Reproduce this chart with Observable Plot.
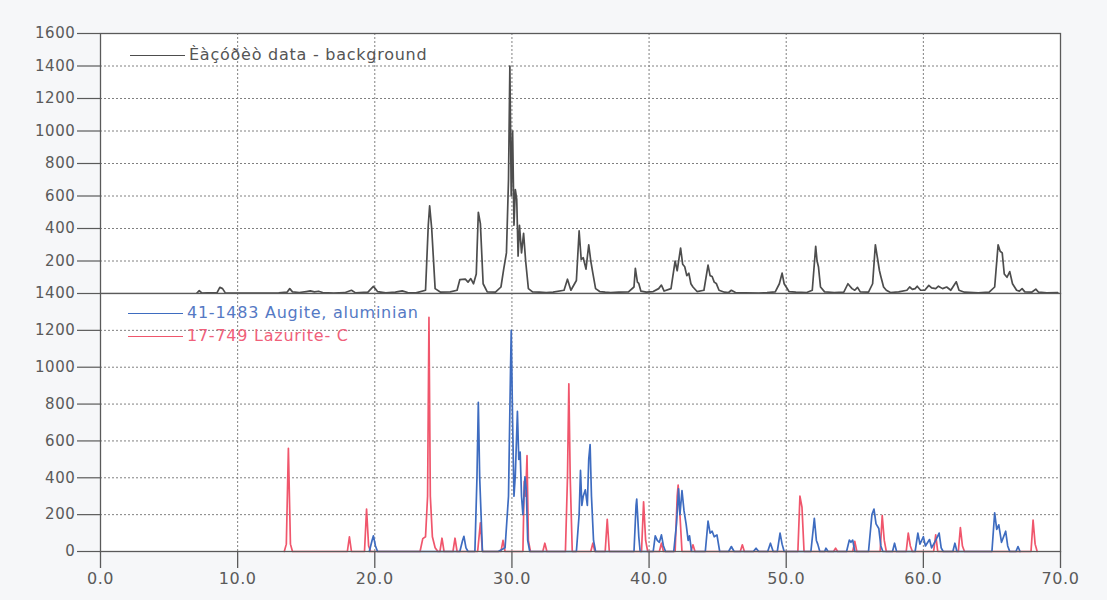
<!DOCTYPE html>
<html>
<head>
<meta charset="utf-8">
<script src="https://cdn.jsdelivr.net/npm/d3@7"></script>
<script src="https://cdn.jsdelivr.net/npm/@observablehq/plot@0.6"></script>
<style>
  body { margin: 0; background: #f6f7f9; font-family: "DejaVu Sans", Verdana, sans-serif; }
  #wrap { position: relative; width: 1107px; height: 600px; }
  #wrap svg { display: block; }
  .leg { position: absolute; font-size: 16px; line-height: 18px; letter-spacing: 0.75px; white-space: nowrap; }
  .leg span.ln { display: inline-block; width: 55px; height: 0; border-top: 1.3px solid; vertical-align: middle; margin-right: 4px; }
</style>
</head>
<body>
<div id="wrap"></div>
<script>
// ---- Data (2-theta in degrees, intensity) ----
const sampleTheta = [7.0,7.2,7.4,7.8,8.5,8.7,8.9,9.1,10.0,11.0,12.0,13.0,13.6,13.8,14.0,14.5,15.0,15.3,15.6,15.9,16.2,17.0,17.8,18.3,18.6,19.5,19.9,20.2,20.8,21.5,22.0,22.4,23.0,23.7,23.9,24.0,24.15,24.4,24.8,25.5,26.0,26.2,26.6,26.8,27.0,27.2,27.4,27.55,27.7,27.9,28.2,28.8,29.2,29.4,29.6,29.75,29.85,29.95,30.05,30.15,30.25,30.35,30.45,30.55,30.7,30.85,31.0,31.2,31.5,32.0,32.5,33.0,33.8,34.05,34.3,34.7,34.9,35.05,35.2,35.4,35.6,35.75,35.9,36.1,36.4,36.8,37.2,37.8,38.5,38.9,39.0,39.15,39.25,39.4,39.8,40.3,40.7,40.9,41.1,41.6,41.9,42.05,42.3,42.45,42.6,42.75,42.9,43.05,43.2,43.5,44.0,44.3,44.45,44.6,44.75,44.9,45.1,45.5,45.8,46.0,46.3,47.0,48.0,48.6,49.2,49.5,49.7,49.85,50.0,50.2,50.7,51.5,51.9,52.15,52.25,52.35,52.5,52.8,53.5,54.2,54.5,54.65,54.8,55.0,55.2,55.4,56.0,56.3,56.5,56.65,56.8,56.9,57.1,57.3,57.6,58.2,58.8,59.0,59.2,59.4,59.55,59.8,60.1,60.4,60.6,60.9,61.1,61.4,61.7,62.0,62.4,62.6,63.0,64.0,64.8,65.2,65.45,65.6,65.75,65.9,66.1,66.3,66.5,66.8,67.0,67.2,67.4,67.9,68.2,68.4,69.0,69.8];
const sampleCounts = [0,18,2,4,6,38,30,4,2,3,2,4,8,30,10,6,12,16,10,14,6,3,5,20,4,8,44,12,4,8,16,6,4,20,420,540,400,30,8,10,20,85,88,70,92,60,120,500,430,60,10,8,40,150,250,700,1400,600,1000,420,640,580,230,420,250,370,200,30,10,8,6,8,20,88,20,80,385,210,220,150,300,200,125,30,12,8,6,8,10,40,155,70,62,15,8,12,30,52,15,30,200,140,280,180,165,110,125,60,40,12,20,175,110,105,70,62,20,8,6,20,6,4,3,5,10,60,125,60,40,12,8,6,20,290,200,165,40,10,6,8,60,45,30,20,38,10,8,60,300,220,140,105,40,20,6,10,20,40,25,30,45,20,20,50,35,30,45,30,40,20,72,20,8,4,8,40,300,260,250,120,100,135,60,20,15,30,10,8,27,8,4,6];

const augiteTheta = [19.6,19.8,19.9,20.05,20.2,26.2,26.4,26.5,26.65,26.8,27.3,27.45,27.55,27.65,27.85,29.0,29.5,29.75,29.9,29.95,30.05,30.15,30.25,30.4,30.5,30.6,30.7,30.8,30.95,31.05,31.15,31.3,34.7,34.9,35.0,35.1,35.2,35.35,35.5,35.6,35.7,35.8,35.95,36.1,38.9,39.05,39.1,39.25,39.35,40.3,40.45,40.6,40.75,40.9,41.05,41.2,41.8,42.0,42.15,42.25,42.4,42.55,42.7,42.85,42.95,43.1,44.1,44.3,44.45,44.6,44.75,44.95,45.15,45.8,46.0,46.2,47.6,47.8,48.0,48.65,48.85,49.05,49.35,49.55,49.7,49.85,51.8,52.05,52.2,52.3,52.45,52.8,52.9,53.05,54.4,54.6,54.72,54.85,55.0,56.0,56.25,56.4,56.55,56.75,56.9,57.05,57.75,57.9,58.05,59.4,59.6,59.75,60.0,60.15,60.45,60.6,60.9,61.15,61.3,61.45,62.15,62.3,62.45,65.0,65.2,65.35,65.5,65.7,66.0,66.15,66.3,66.75,66.9,67.05];
const augiteCounts = [0,60,85,30,0,0,60,82,20,0,0,400,810,400,0,0,20,300,1000,1200,700,300,420,760,500,540,300,200,405,330,60,0,0,200,440,250,300,335,250,500,580,300,60,0,0,250,285,80,0,0,85,60,50,90,30,0,0,150,340,200,330,220,150,60,85,0,0,165,100,110,80,90,0,0,27,0,0,18,0,0,45,0,0,100,40,0,0,180,60,40,0,0,18,0,0,62,50,62,0,0,200,230,150,125,30,0,0,45,0,0,100,40,80,30,65,20,60,100,20,0,0,45,0,0,210,120,145,50,110,30,0,0,27,0];

const lazuriteTheta = [13.4,13.55,13.7,13.85,14.0,18.0,18.15,18.3,19.25,19.4,19.55,19.7,23.3,23.5,23.7,23.85,23.95,24.05,24.2,24.4,24.6,24.75,24.9,25.05,25.7,25.85,26.0,27.5,27.7,27.85,29.2,29.35,29.5,30.8,30.9,31.0,31.1,31.2,31.35,32.25,32.4,32.55,33.9,34.05,34.15,34.25,34.4,35.75,35.9,36.05,36.8,36.95,37.1,39.45,39.6,39.75,39.9,40.75,40.9,41.05,41.9,42.05,42.12,42.25,42.4,43.05,43.2,43.35,46.65,46.8,46.95,50.85,51.0,51.15,51.3,53.45,53.6,53.75,54.85,55.0,55.15,56.85,57.0,57.15,57.3,58.75,58.9,59.05,59.2,60.75,60.9,61.05,62.55,62.7,62.85,63.0,67.85,68.0,68.15,68.3];
const lazuriteCounts = [0,40,560,40,0,0,80,0,0,230,30,0,0,70,80,300,1270,300,80,20,0,0,72,0,0,72,0,0,155,0,0,60,0,0,380,300,520,60,0,0,45,0,0,400,910,400,0,0,45,0,0,175,0,0,270,60,0,0,45,0,0,300,360,200,0,0,36,0,0,36,0,0,300,240,0,0,18,0,0,55,0,0,195,60,0,0,100,30,0,0,90,0,0,130,30,0,0,170,40,0];

const xTicks = [0, 10, 20, 30, 40, 50, 60, 70];
const xGrid = [10, 20, 30, 40, 50, 60];
const topYTicks = [200, 400, 600, 800, 1000, 1200, 1400, 1600];
const topYGrid = [200, 400, 600, 800, 1000, 1200, 1400];
const botYTicks = [0, 200, 400, 600, 800, 1000, 1200, 1400];
const botYGrid = [200, 400, 600, 800, 1000, 1200];

const legendTop = "Èàçóðèò data - background";
const legendBlue = "41-1483 Augite, aluminian";
const legendRed = "17-749 Lazurite- C";

// ---- Build tables ----
const toRows = (xs, ys) => xs.map((t, i) => ({t, c: ys[i]}));
const sample = toRows(sampleTheta, sampleCounts);
const augite = toRows(augiteTheta, augiteCounts);
const lazurite = toRows(lazuriteTheta, lazuriteCounts);

const C_AXIS = "#5a5a5a";
const C_GRID = "#808080";
const C_SAMPLE = "#4d4d4d";
const C_BLUE = "#3e6cc0";
const C_RED = "#f0566c";

const style = {background: "transparent", color: C_AXIS, fontFamily: "'DejaVu Sans', Verdana, sans-serif", letterSpacing: "0.6px", overflow: "visible"};
const gridOpts = {stroke: C_GRID, strokeOpacity: 1, strokeWidth: 1, strokeDasharray: "2,2"};
const numFmt = d => String(d);

const topPlot = Plot.plot({
  width: 1107, height: 293,
  marginLeft: 100, marginRight: 47, marginTop: 33, marginBottom: 0,
  x: {domain: [0, 70], axis: null},
  y: {domain: [0, 1600], axis: null},
  style,
  marks: [
    Plot.frame({fill: "white", stroke: null}),
    Plot.gridX(xGrid, gridOpts),
    Plot.gridY(topYGrid, gridOpts),
    Plot.line(sample, {x: "t", y: "c", stroke: C_SAMPLE, strokeWidth: 1.7}),
    Plot.axisY(topYTicks, {label: null, tickFormat: numFmt, tickSize: 23, tickPadding: 2, fontSize: 15, color: C_AXIS, strokeWidth: 1.2}),
    Plot.frame({stroke: C_AXIS, strokeWidth: 1.3})
  ]
});

const botPlot = Plot.plot({
  width: 1107, height: 307,
  marginLeft: 100, marginRight: 47, marginTop: 0, marginBottom: 49,
  x: {domain: [0, 70], axis: null},
  y: {domain: [0, 1400], axis: null},
  style,
  marks: [
    Plot.frame({fill: "white", stroke: null}),
    Plot.gridX(xGrid, gridOpts),
    Plot.gridY(botYGrid, gridOpts),
    Plot.line(lazurite, {x: "t", y: "c", stroke: C_RED, strokeWidth: 1.7}),
    Plot.line(augite, {x: "t", y: "c", stroke: C_BLUE, strokeWidth: 1.7}),
    Plot.axisY(botYTicks, {label: null, tickFormat: numFmt, tickSize: 23, tickPadding: 2, fontSize: 15, color: C_AXIS, strokeWidth: 1.2}),
    Plot.axisX(xTicks, {label: null, tickSize: 17, tickPadding: 4, fontSize: 16, color: C_AXIS, strokeWidth: 1.3, tickFormat: d => d.toFixed(1)}),
    Plot.frame({stroke: C_AXIS, strokeWidth: 1.3})
  ]
});

const wrap = document.getElementById("wrap");
wrap.appendChild(topPlot);
wrap.appendChild(botPlot);

function addLegend(text, color, textColor, left, top) {
  const d = document.createElement("div");
  d.className = "leg";
  d.style.left = left + "px";
  d.style.top = top + "px";
  d.style.color = textColor;
  const ln = document.createElement("span");
  ln.className = "ln";
  ln.style.borderTopColor = color;
  d.appendChild(ln);
  d.appendChild(document.createTextNode(text));
  wrap.appendChild(d);
}
addLegend(legendTop, C_SAMPLE, "#555", 130, 46);
addLegend(legendBlue, C_BLUE, "#5579c4", 128, 304);
addLegend(legendRed, C_RED, "#f0607a", 128, 327);
</script>
</body>
</html>
